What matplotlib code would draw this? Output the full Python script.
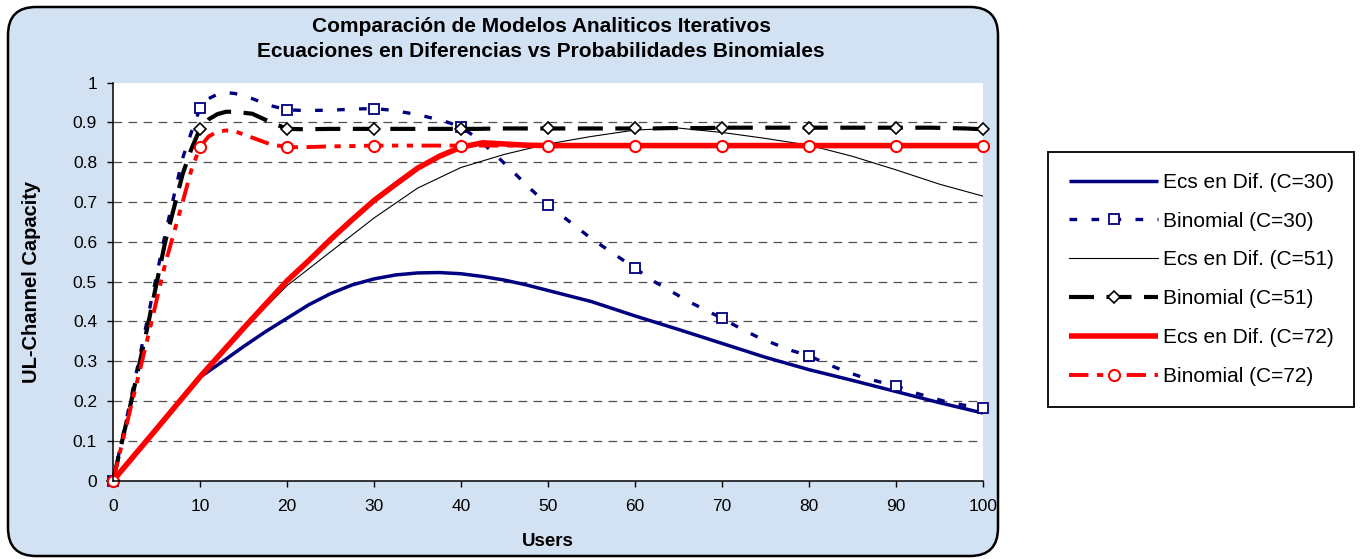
import matplotlib
matplotlib.use('Agg')
import matplotlib.pyplot as plt
from matplotlib.patches import FancyBboxPatch
from matplotlib.transforms import IdentityTransform

plt.rcParams['font.family'] = ['Liberation Sans', 'DejaVu Sans']

# Ecs en Dif. (curvas continuas)
x_ecs30 = [0, 5, 10, 12.5, 15, 17.5, 20, 22.5, 25, 27.5, 30, 32.5, 35, 37.5, 40,
           42.5, 45, 47.5, 50, 55, 60, 65, 70, 75, 80, 85, 90, 95, 100]
ecs30 = [0, 0.13, 0.26, 0.298, 0.337, 0.374, 0.408, 0.442, 0.47, 0.492, 0.507, 0.517,
         0.522, 0.523, 0.52, 0.513, 0.504, 0.492, 0.478, 0.45, 0.414, 0.38, 0.345,
         0.31, 0.279, 0.252, 0.224, 0.196, 0.17]

x_ecs51 = [0, 5, 10, 15, 20, 25, 30, 35, 40, 45, 50, 55, 60, 65, 70, 75, 80, 85, 90, 95, 100]
ecs51 = [0, 0.13, 0.261, 0.38, 0.49, 0.575, 0.66, 0.735, 0.787, 0.82, 0.846, 0.865,
         0.881, 0.886, 0.875, 0.86, 0.843, 0.815, 0.781, 0.745, 0.715]

x_ecs72 = [0, 5, 10, 15, 20, 22.5, 25, 27.5, 30, 32.5, 35, 37.5, 40, 42.5, 45, 47.5,
           50, 60, 70, 80, 90, 100]
ecs72 = [0, 0.13, 0.261, 0.383, 0.502, 0.553, 0.606, 0.656, 0.704, 0.745, 0.785, 0.815,
         0.838, 0.849, 0.846, 0.843, 0.842, 0.842, 0.842, 0.842, 0.842, 0.842]

# Probabilidades binomiales
x_bin = [0, 2, 4, 6, 8, 9, 10, 11, 12, 13, 14, 16, 18, 20, 22, 25, 28, 30, 32, 35, 38,
         40, 42, 44, 46, 48, 50, 55, 60, 62, 64, 66, 68, 70, 72, 74, 76, 78, 80, 82,
         84, 86, 88, 90, 92, 94, 96, 98, 100]
bin30 = [0, 0.2, 0.41, 0.62, 0.81, 0.875, 0.936, 0.96, 0.971, 0.975, 0.973, 0.96,
         0.943, 0.932, 0.93, 0.931, 0.934, 0.935, 0.931, 0.92, 0.904, 0.889, 0.858,
         0.818, 0.776, 0.733, 0.693, 0.608, 0.534, 0.503, 0.478, 0.452, 0.43, 0.408,
         0.384, 0.362, 0.344, 0.327, 0.314, 0.294, 0.276, 0.261, 0.249, 0.238, 0.222,
         0.209, 0.197, 0.189, 0.183]
bin51 = [0, 0.19, 0.39, 0.6, 0.77, 0.833, 0.884, 0.908, 0.921, 0.927, 0.927, 0.922,
         0.902, 0.884, 0.883, 0.884, 0.884, 0.884, 0.884, 0.884, 0.884, 0.884, 0.884,
         0.885, 0.885, 0.885, 0.885, 0.885, 0.885, 0.885, 0.886, 0.886, 0.886, 0.887,
         0.887, 0.887, 0.887, 0.887, 0.887, 0.887, 0.887, 0.887, 0.887, 0.887, 0.887,
         0.887, 0.886, 0.885, 0.883]
bin72 = [0, 0.18, 0.36, 0.545, 0.7, 0.78, 0.839, 0.865, 0.877, 0.88, 0.878, 0.862,
         0.846, 0.838, 0.838, 0.84, 0.841, 0.842, 0.842, 0.842, 0.842, 0.842, 0.842,
         0.842, 0.842, 0.842, 0.842, 0.842, 0.842, 0.842, 0.842, 0.842, 0.842, 0.842,
         0.842, 0.842, 0.842, 0.842, 0.842, 0.842, 0.842, 0.842, 0.842, 0.842, 0.842,
         0.842, 0.842, 0.842, 0.842]
marcas = [i for i, v in enumerate(x_bin) if v % 10 == 0]

etiquetas = ['Ecs en Dif. (C=30)', 'Binomial (C=30)', 'Ecs en Dif. (C=51)',
             'Binomial (C=51)', 'Ecs en Dif. (C=72)', 'Binomial (C=72)']

fig = plt.figure(figsize=(13.6, 5.59), dpi=100)

# fondo azul redondeado
fondo = FancyBboxPatch((8, 3), 990, 549, boxstyle='round,pad=0,rounding_size=28',
                       transform=IdentityTransform(), facecolor='#d3e2f2',
                       edgecolor='black', linewidth=1.8, zorder=-1)
fig.add_artist(fondo)

ax = fig.add_axes([113 / 1360, 1 - 480.7 / 559, 870 / 1360, 398 / 559])
ax.set_facecolor('white')

navy = '#000080'
l1, = ax.plot(x_ecs30, ecs30, color=navy, lw=2.5, solid_capstyle='butt')
l2, = ax.plot(x_bin, bin30, color=navy, lw=2.4, dashes=(2.3, 4.3),
              marker='s', markevery=marcas, ms=7.5, mfc='white', mec=navy, mew=1.3,
              clip_on=False)
l3, = ax.plot(x_ecs51, ecs51, color='black', lw=0.8)
l4, = ax.plot(x_bin, bin51, color='black', lw=3.0, dashes=(6, 3),
              marker='D', markevery=marcas, ms=6.5, mfc='white', mec='black', mew=1.2,
              clip_on=False)
l5, = ax.plot(x_ecs72, ecs72, color='red', lw=4.0, solid_capstyle='butt')
l6, = ax.plot(x_bin, bin72, color='red', lw=2.8, dashes=(5, 2.2, 1.6, 2.2, 1.6, 2.2),
              marker='o', markevery=marcas, ms=8, mfc='white', mec='red', mew=1.5,
              clip_on=False)

ax.set_xlim(0, 100)
ax.set_ylim(0, 1)
ax.set_xticks(range(0, 101, 10))
ax.set_yticks([i / 10 for i in range(11)])
ax.set_yticklabels(['0', '0.1', '0.2', '0.3', '0.4', '0.5', '0.6', '0.7', '0.8', '0.9', '1'])
ax.tick_params(axis='both', direction='out', length=4.5, width=1, labelsize=12.5)
ax.tick_params(axis='x', pad=9)
ax.tick_params(axis='y', pad=7)
ax.yaxis.grid(True, color='#505050', lw=0.9, dashes=(7, 5))
ax.get_ygridlines()[-1].set_visible(False)
ax.get_ygridlines()[0].set_visible(False)
ax.set_axisbelow(True)
for s in ['top', 'right']:
    ax.spines[s].set_visible(False)
for s in ['left', 'bottom']:
    ax.spines[s].set_linewidth(1.1)

fig.text(548 / 1360, 1 - 541 / 559, 'Users', ha='center', va='center',
         fontsize=13.5, fontweight='bold')
fig.text(32 / 1360, 1 - 282 / 559, 'UL-Channel Capacity', ha='center', va='center',
         rotation=90, fontsize=14.5, fontweight='bold')
fig.text(541 / 1360, 1 - 39 / 559,
         'Comparación de Modelos Analiticos Iterativos\nEcuaciones en Diferencias vs Probabilidades Binomiales',
         ha='center', va='center', fontsize=15, fontweight='bold', linespacing=1.35)

leg = fig.legend([l1, l2, l3, l4, l5, l6], etiquetas, loc='upper left',
                 bbox_to_anchor=(1048 / 1360, 1 - 152 / 559), bbox_transform=fig.transFigure,
                 fontsize=15, frameon=True, fancybox=False, edgecolor='black',
                 framealpha=1, borderaxespad=0, borderpad=1.0, handlelength=4.3,
                 handletextpad=0.2, labelspacing=0.95, numpoints=1)
leg.get_frame().set_linewidth(1.3)

fig.savefig('out.png', dpi=100)
